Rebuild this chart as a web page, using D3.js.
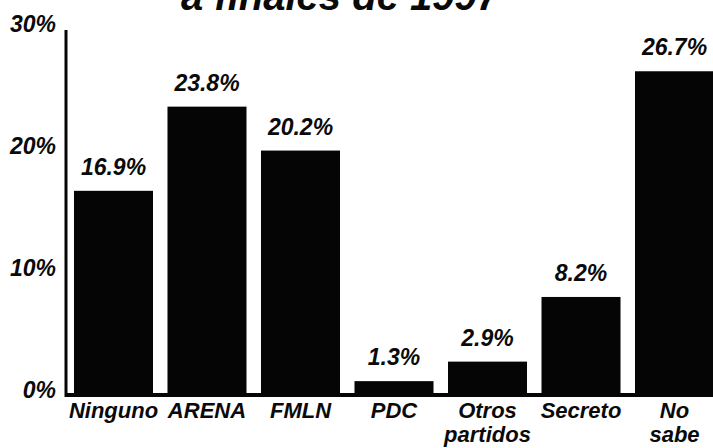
<!DOCTYPE html>
<html>
<head>
<meta charset="utf-8">
<script src="https://cdn.jsdelivr.net/npm/d3@7"></script>
<style>
  body { margin: 0; background: #fff; }
  text { font-family: "Liberation Sans", Arial, sans-serif; font-weight: bold; font-style: italic; fill: #0a0a0a; }
</style>
</head>
<body>
<div id="chart"></div>
<script>
// data
var categories = [["Ninguno"], ["ARENA"], ["FMLN"], ["PDC"], ["Otros", "partidos"], ["Secreto"], ["No", "sabe"]];
var values = [16.9, 23.8, 20.2, 1.3, 2.9, 8.2, 26.7];
var yTicks = [0, 10, 20, 30];
var title = "a finales de 1997";

var width = 713, height = 448;

var svg = d3.select("#chart")
  .append("svg")
  .attr("width", width)
  .attr("height", height);

var keys = categories.map(function (d) { return d.join(" "); });

var x = d3.scaleBand()
  .domain(keys)
  .range([66.5, 721.5])
  .paddingInner(0.155)
  .paddingOuter(0.08);

var y = d3.scaleLinear().domain([0, 30]).range([397, 31]);

// title (cut off at the top of the scan)
svg.append("text")
  .attr("x", 340)
  .attr("y", 10)
  .attr("text-anchor", "middle")
  .style("font-size", "40px")
  .text(title);

// bars
svg.selectAll(".bar")
  .data(values)
  .enter()
  .append("rect")
  .attr("class", "bar")
  .attr("x", function (d, i) { return x(keys[i]); })
  .attr("y", function (d) { return y(d); })
  .attr("width", x.bandwidth())
  .attr("height", function (d) { return y(0) - y(d); })
  .style("fill", "#050505");

// value labels
svg.selectAll(".val")
  .data(values)
  .enter()
  .append("text")
  .attr("class", "val")
  .attr("x", function (d, i) { return x(keys[i]) + x.bandwidth() / 2; })
  .attr("y", function (d) { return y(d) - 16; })
  .attr("text-anchor", "middle")
  .style("font-size", "23px")
  .text(function (d) { return d.toFixed(1) + "%"; });

// baseline and y axis line
svg.append("line")
  .attr("x1", 65).attr("x2", width)
  .attr("y1", y(0) - 2).attr("y2", y(0) - 2)
  .style("stroke", "#050505").style("stroke-width", 4);

svg.append("line")
  .attr("x1", 66).attr("x2", 66)
  .attr("y1", y(30) - 1).attr("y2", y(0))
  .style("stroke", "#050505").style("stroke-width", 3);

// y tick labels
svg.selectAll(".ytick")
  .data(yTicks)
  .enter()
  .append("text")
  .attr("class", "ytick")
  .attr("x", 56)
  .attr("y", function (d) { return y(d) + 1; })
  .attr("text-anchor", "end")
  .style("font-size", "23px")
  .text(function (d) { return d + "%"; });

// category labels
var cat = svg.selectAll(".cat")
  .data(categories)
  .enter()
  .append("text")
  .attr("class", "cat")
  .attr("text-anchor", "middle")
  .style("font-size", "22px");

cat.selectAll("tspan")
  .data(function (d, i) { return d.map(function (t) { return { t: t, i: i }; }); })
  .enter()
  .append("tspan")
  .attr("x", function (d) { return x(keys[d.i]) + x.bandwidth() / 2; })
  .attr("y", function (d, j) { return 418 + j * 24; })
  .text(function (d) { return d.t; });
</script>
</body>
</html>
